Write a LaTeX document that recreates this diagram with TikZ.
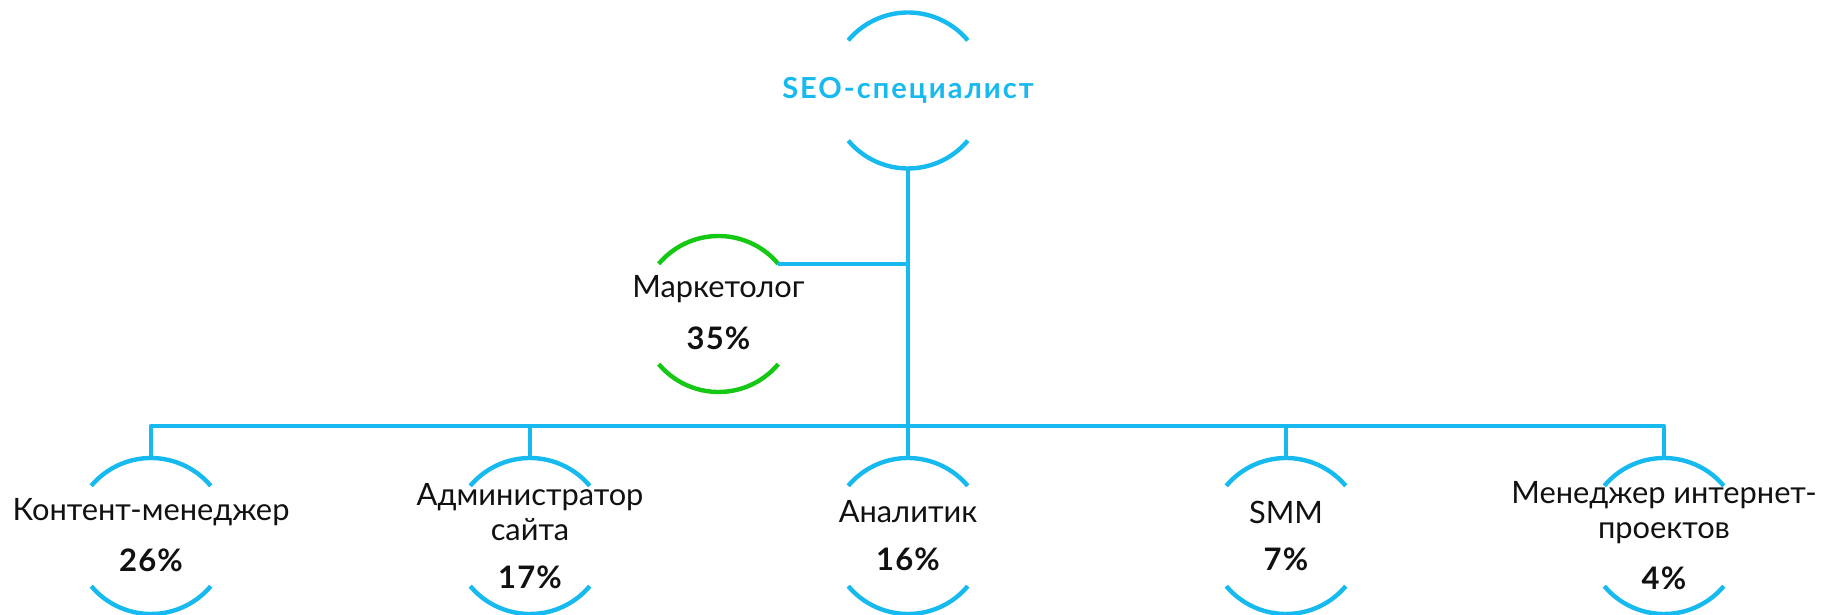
\documentclass[tikz,border=0pt]{standalone}
\usepackage{fontspec}
\setmainfont{Lato}
\definecolor{cyanline}{RGB}{22,186,238}
\definecolor{greenline}{RGB}{20,200,20}
\definecolor{txt}{RGB}{17,17,17}
\begin{document}
\begin{tikzpicture}[x=1pt,y=1pt,
  ring/.style={circle,minimum size=156pt,inner sep=0pt,outer sep=0pt},
  conn/.style={cyanline,line width=4.4pt},
  lbl/.style={inner sep=0pt,text=txt,font=\fontsize{30.8}{35}\selectfont,align=center},
  pct/.style={inner sep=0pt,text=txt,font=\bfseries\fontsize{31}{35}\selectfont\addfontfeature{LetterSpace=4}},
]
\useasboundingbox (0,0) rectangle (1825,615);
% rings
\node[ring] (top) at (908,524.5) {};
\node[ring] (mk) at (718.5,301) {};
\node[ring] (b1) at (151,79) {};
\node[ring] (b2) at (530,79) {};
\node[ring] (b3) at (908,79) {};
\node[ring] (b4) at (1286,79) {};
\node[ring] (b5) at (1664,79) {};
\coordinate (bus) at (908,189);
% arcs
\foreach \n/\c in {top/cyanline,mk/greenline,b1/cyanline,b2/cyanline,b3/cyanline,b4/cyanline,b5/cyanline}{
  \draw[\c,line width=4.4pt] (\n.40) arc[start angle=40,end angle=140,radius=78pt];
  \draw[\c,line width=4.4pt] (\n.220) arc[start angle=220,end angle=320,radius=78pt];
}
% connectors
\draw[conn] (top.south) -- (top.south |- bus);
\draw[conn] (mk.40) -- (mk.40 -| top.south);
\draw[conn,line join=round] (b1.north) -- (b1.north |- bus) -- (b5.north |- bus) -- (b5.north);
\draw[conn] (b2.north) -- (b2.north |- bus);
\draw[conn] (b3.north) -- (b3.north |- bus);
\draw[conn] (b4.north) -- (b4.north |- bus);
% texts
\node[inner sep=0pt,text=cyanline,font=\bfseries\fontsize{29}{30}\selectfont\addfontfeature{LetterSpace=7}] (ttop) at (908,524.5) {SEO-специалист};
\node[lbl] (tmk) at (718.5,326) {Маркетолог};
\node[pct] (pmk) at (718.5,277) {35\%};
\node[lbl] (t1) at (151,103) {Контент-менеджер};
\node[pct] (p1) at (151,55) {26\%};
\node[lbl] (t2) at (530,102.5) {Администратор\\сайта};
\node[pct] (p2) at (530,38) {17\%};
\node[lbl] (t3) at (908,103) {Аналитик};
\node[pct] (p3) at (908,56) {16\%};
\node[lbl] (t4) at (1286,103) {SMM};
\node[pct] (p4) at (1286,56) {7\%};
\node[lbl] (t5) at (1664,102.5) {Менеджер интернет-\\проектов};
\node[pct] (p5) at (1664,37) {4\%};
\end{tikzpicture}
\end{document}
